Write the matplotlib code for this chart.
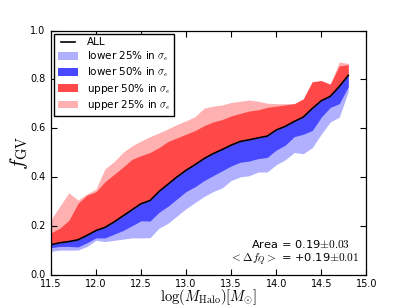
import numpy as np
import matplotlib
matplotlib.use('Agg')
import matplotlib.pyplot as plt

plt.style.use('classic')

# ------------------------------------------------
# DATA
# ------------------------------------------------

logm = [11.5, 11.6, 11.7, 11.8, 11.9, 12.0, 12.1, 12.2, 12.3, 12.4, 12.5, 12.6,
        12.7, 12.8, 12.9, 13.0, 13.1, 13.2, 13.3, 13.4, 13.5, 13.6, 13.7, 13.8,
        13.9, 14.0, 14.1, 14.2, 14.3, 14.4, 14.5, 14.6, 14.7, 14.8]

f_all = [0.122, 0.130, 0.135, 0.142, 0.160, 0.180, 0.193, 0.215, 0.240, 0.265,
         0.290, 0.303, 0.340, 0.370, 0.400, 0.427, 0.450, 0.475, 0.495, 0.512,
         0.530, 0.545, 0.552, 0.560, 0.567, 0.592, 0.607, 0.627, 0.645, 0.680,
         0.712, 0.730, 0.770, 0.816]

upper25 = [0.225, 0.280, 0.335, 0.305, 0.330, 0.350, 0.433, 0.462, 0.500, 0.527,
           0.547, 0.565, 0.580, 0.597, 0.615, 0.630, 0.647, 0.682, 0.690, 0.695,
           0.705, 0.710, 0.715, 0.710, 0.702, 0.700, 0.700, 0.700, 0.689, 0.750,
           0.780, 0.780, 0.871, 0.865]

upper50 = [0.171, 0.190, 0.222, 0.291, 0.325, 0.339, 0.380, 0.410, 0.440, 0.472,
           0.487, 0.500, 0.520, 0.545, 0.560, 0.575, 0.590, 0.610, 0.625, 0.635,
           0.650, 0.660, 0.670, 0.675, 0.685, 0.690, 0.695, 0.700, 0.720, 0.790,
           0.795, 0.780, 0.855, 0.860]

lower50 = [0.110, 0.115, 0.115, 0.113, 0.130, 0.150, 0.150, 0.165, 0.180, 0.200,
           0.220, 0.219, 0.255, 0.280, 0.310, 0.340, 0.360, 0.385, 0.405, 0.425,
           0.445, 0.460, 0.465, 0.475, 0.480, 0.510, 0.530, 0.565, 0.575, 0.590,
           0.645, 0.685, 0.700, 0.770]

lower25 = [0.095, 0.100, 0.100, 0.100, 0.115, 0.140, 0.135, 0.140, 0.145, 0.150,
           0.150, 0.151, 0.190, 0.210, 0.240, 0.270, 0.295, 0.320, 0.340, 0.355,
           0.385, 0.400, 0.405, 0.420, 0.420, 0.450, 0.470, 0.500, 0.495, 0.520,
           0.575, 0.625, 0.645, 0.750]

area_txt = r'Area = 0.19$\pm0.03$'
dfq_txt = r'$<\Delta f_Q>$ = +0.19$\pm0.01$'

# ------------------------------------------------
# FIGURE
# ------------------------------------------------

fig = plt.figure(figsize=(4.07, 3.05), dpi=100, facecolor='white')
ax = fig.add_axes([0.125, 0.1, 0.775, 0.8])

ax.fill_between(logm, f_all, upper25, color='#ffb0b0', lw=0, label=r'upper 25% in $\sigma_e$')
ax.fill_between(logm, f_all, upper50, color='#ff4848', lw=0, label=r'upper 50% in $\sigma_e$')
ax.fill_between(logm, lower25, f_all, color='#b0b0ff', lw=0, label=r'lower 25% in $\sigma_e$')
ax.fill_between(logm, lower50, f_all, color='#4848ff', lw=0, label=r'lower 50% in $\sigma_e$')
ax.plot(logm, f_all, color='black', lw=1.2, label='ALL')

ax.set_xlim(11.5, 15.0)
ax.set_ylim(0.0, 1.0)
ax.set_xticks(np.arange(11.5, 15.01, 0.5))
ax.set_yticks(np.arange(0, 1.01, 0.2))
ax.tick_params(labelsize=7, length=4, width=0.8)
ax.tick_params(axis='x', pad=3)
for s in ax.spines.values():
    s.set_linewidth(0.9)

ax.set_xlabel(r'$\log(M_{\rm Halo})[M_{\odot}]$', fontsize=10.5, labelpad=-1.5)
ax.set_ylabel(r'$f_{\rm GV}$', fontsize=15, labelpad=0)

h, l = ax.get_legend_handles_labels()
order = [4, 2, 3, 1, 0]
ax.legend([h[i] for i in order], [l[i] for i in order], loc='upper left',
          fontsize=7.5, frameon=True, handlelength=2.0, borderpad=0.35,
          labelspacing=0.22, handletextpad=0.8, borderaxespad=0.3)

ax.text(0.949, 0.125, area_txt, transform=ax.transAxes, ha='right', va='center', fontsize=8.2)
ax.text(0.978, 0.062, dfq_txt, transform=ax.transAxes, ha='right', va='center', fontsize=8.2)

fig.savefig('out.png', dpi=100, facecolor='white')
